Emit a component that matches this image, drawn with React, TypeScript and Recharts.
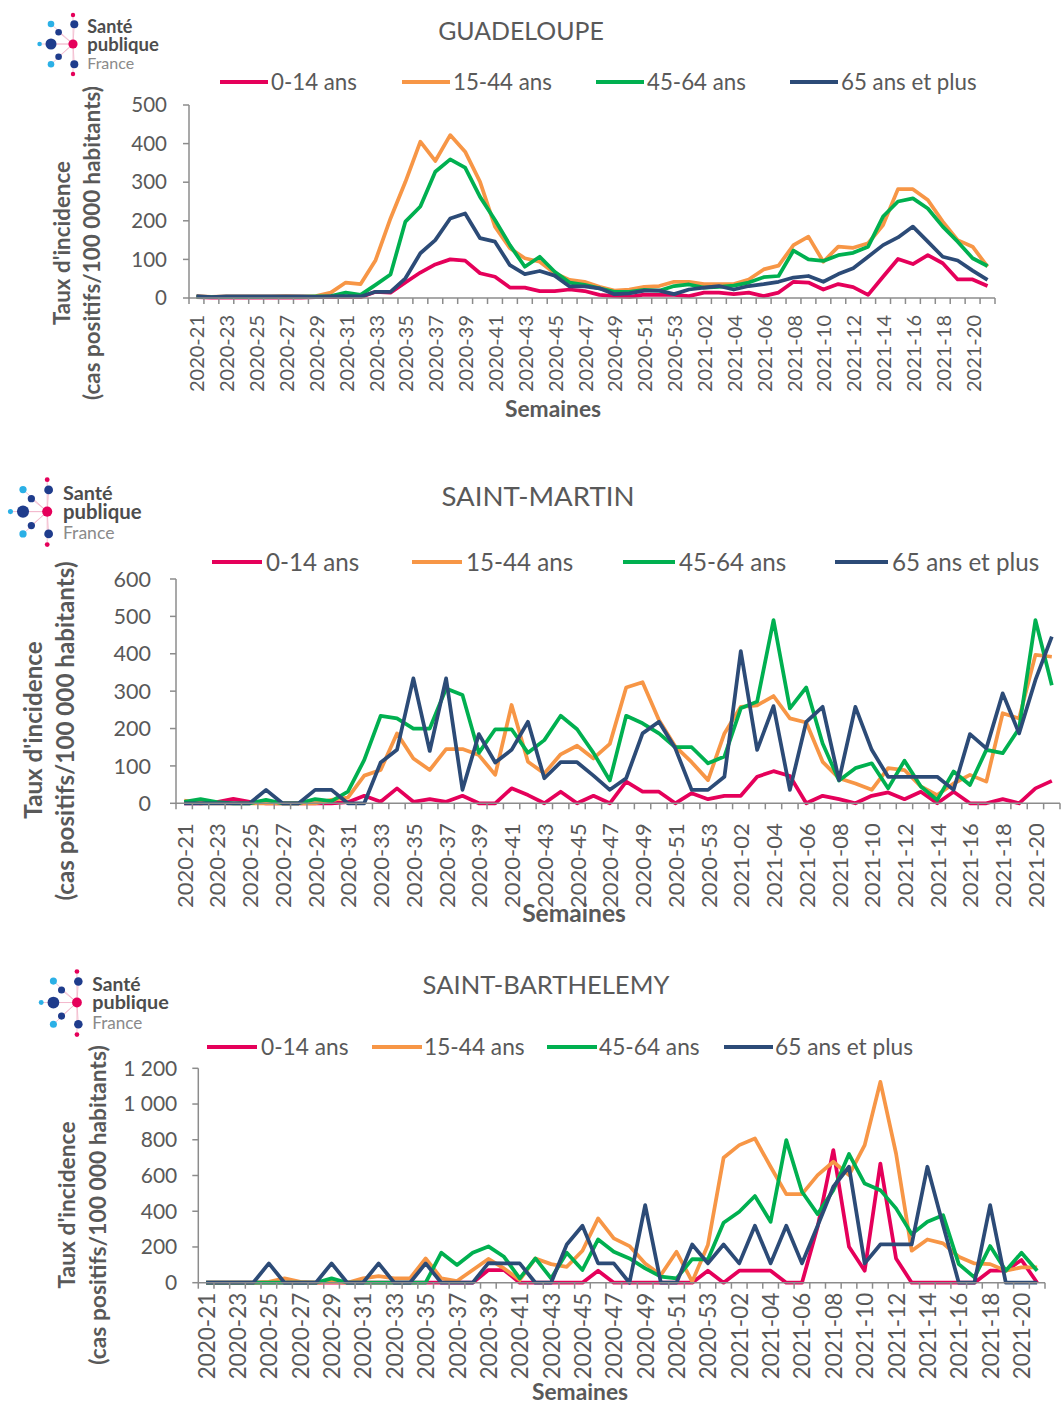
import React from 'react';
import { LineChart, Line, XAxis, YAxis } from 'recharts';

// ---------- DATA ----------
const weeks = [
  '2020-21', '2020-22', '2020-23', '2020-24', '2020-25', '2020-26', '2020-27', '2020-28', '2020-29', '2020-30',
  '2020-31', '2020-32', '2020-33', '2020-34', '2020-35', '2020-36', '2020-37', '2020-38', '2020-39', '2020-40',
  '2020-41', '2020-42', '2020-43', '2020-44', '2020-45', '2020-46', '2020-47', '2020-48', '2020-49', '2020-50',
  '2020-51', '2020-52', '2020-53', '2021-01', '2021-02', '2021-03', '2021-04', '2021-05', '2021-06', '2021-07',
  '2021-08', '2021-09', '2021-10', '2021-11', '2021-12', '2021-13', '2021-14', '2021-15', '2021-16', '2021-17',
  '2021-18', '2021-19', '2021-20', '2021-21',
];

const seriesNames = ['0-14 ans', '15-44 ans', '45-64 ans', '65 ans et plus'];

const chartTitles = ['GUADELOUPE', 'SAINT-MARTIN', 'SAINT-BARTHELEMY'];
const yTitle1 = "Taux d'incidence";
const yTitle2 = '(cas positifs/100 000 habitants)';
const xTitle = 'Semaines';
const logoWords = ['Santé', 'publique', 'France'];

const gpTicks = [0, 100, 200, 300, 400, 500];
const smTicks = [0, 100, 200, 300, 400, 500, 600];
const sbTicks = [0, 200, 400, 600, 800, 1000, 1200];

// Guadeloupe
const gp014 = [2, 1, 1, 1, 1, 1, 1, 1, 2, 2, 3, 2, 16, 14, 40, 66, 87, 100, 97, 64, 55, 27, 27, 18, 18, 22, 18, 8, 5, 3, 9, 8, 8, 5, 14, 14, 10, 14, 5, 14, 42, 40, 22, 36, 28, 8, 55, 101, 88, 111, 90, 48, 48, 31];
const gp1544 = [5, 3, 4, 4, 4, 4, 5, 4, 5, 14, 40, 36, 98, 206, 301, 405, 355, 422, 379, 301, 185, 129, 103, 94, 64, 47, 42, 29, 19, 22, 29, 31, 42, 42, 36, 36, 36, 48, 74, 84, 137, 159, 94, 133, 130, 142, 189, 282, 282, 254, 198, 150, 133, 81];
const gp4564 = [3, 2, 2, 2, 2, 3, 3, 3, 4, 5, 14, 8, 34, 61, 198, 237, 327, 359, 338, 262, 202, 137, 81, 107, 68, 40, 34, 25, 16, 16, 21, 19, 31, 35, 27, 29, 32, 40, 54, 57, 123, 100, 96, 111, 117, 133, 211, 250, 258, 232, 185, 146, 103, 83];
const gp65 = [5, 2, 4, 4, 4, 4, 4, 4, 3, 4, 5, 4, 16, 16, 51, 116, 150, 206, 219, 155, 146, 85, 62, 70, 58, 30, 30, 25, 10, 12, 19, 19, 10, 22, 27, 31, 22, 31, 36, 42, 53, 57, 42, 62, 77, 107, 137, 157, 185, 146, 107, 97, 71, 47];

// Saint-Martin
const sm014 = [0, 0, 3, 12, 4, 0, 0, 0, 0, 0, 3, 20, 4, 40, 4, 11, 4, 20, 0, 0, 40, 22, 0, 31, 0, 20, 0, 58, 31, 31, 0, 27, 11, 20, 20, 71, 86, 73, 0, 20, 11, 0, 20, 29, 11, 31, 0, 31, 0, 0, 11, 0, 40, 60];
const sm1544 = [7, 0, 0, 0, 0, 0, 0, 0, 0, 9, 15, 74, 89, 187, 120, 89, 145, 145, 129, 76, 263, 111, 80, 131, 154, 120, 159, 310, 324, 223, 152, 110, 62, 187, 258, 262, 287, 227, 216, 111, 67, 53, 36, 94, 89, 45, 22, 53, 76, 58, 241, 227, 397, 392];
const sm4564 = [4, 11, 3, 0, 0, 9, 0, 0, 11, 6, 31, 116, 234, 227, 200, 200, 307, 290, 135, 198, 198, 135, 169, 234, 198, 135, 61, 234, 214, 187, 150, 150, 107, 125, 254, 272, 490, 254, 310, 160, 61, 94, 107, 40, 114, 45, 9, 85, 49, 143, 134, 200, 490, 316];
const sm65 = [0, 0, 0, 0, 0, 36, 0, 0, 36, 36, 0, 0, 109, 143, 334, 140, 334, 36, 185, 109, 143, 218, 67, 110, 110, 74, 36, 67, 187, 218, 147, 36, 36, 71, 407, 143, 260, 36, 218, 258, 62, 258, 143, 71, 71, 71, 71, 36, 185, 147, 294, 187, 330, 446];

// Saint-Barthélemy
const sb014 = [0, 0, 0, 0, 0, 0, 0, 0, 0, 0, 0, 0, 0, 0, 0, 0, 0, 0, 71, 71, 0, 0, 0, 0, 0, 67, 0, 0, 0, 0, 0, 0, 67, 0, 67, 67, 67, 0, 0, 313, 742, 201, 67, 667, 136, 0, 0, 0, 0, 0, 67, 67, 127, 0];
const sb1544 = [0, 0, 0, 0, 5, 24, 5, 0, 5, 0, 24, 37, 24, 24, 136, 24, 9, 71, 133, 80, 15, 136, 104, 89, 179, 360, 248, 205, 108, 43, 173, 6, 211, 699, 770, 807, 649, 496, 496, 602, 677, 602, 770, 1124, 723, 179, 242, 220, 145, 108, 104, 67, 86, 86];
const sb4564 = [0, 0, 0, 0, 0, 0, 0, 0, 24, 0, 0, 0, 0, 0, 0, 168, 99, 168, 203, 145, 24, 136, 24, 168, 71, 242, 173, 136, 80, 34, 24, 132, 130, 336, 397, 485, 341, 798, 509, 384, 518, 720, 555, 518, 416, 272, 341, 378, 104, 30, 205, 67, 168, 67];
const sb65 = [0, 0, 0, 0, 108, 0, 0, 0, 108, 0, 0, 108, 0, 0, 108, 0, 0, 0, 110, 108, 108, 0, 0, 214, 319, 108, 108, 0, 434, 0, 0, 214, 108, 214, 108, 319, 108, 319, 108, 319, 537, 649, 108, 214, 214, 214, 649, 322, 0, 0, 434, 0, 0, 0];

// ---------- STYLE ----------
const COLORS = ['#E5005A', '#F79646', '#00B050', '#2C4B77'];
const TXT = '#595959';
const AXIS = '#8C8C8C';
const FONT = 'Lato, "Open Sans", sans-serif';

const buildData = (a: number[], b: number[], c: number[], d: number[]) =>
  weeks.map((w, i) => ({ week: w, s0: a[i], s1: b[i], s2: c[i], s3: d[i] }));

const datasets = [
  buildData(gp014, gp1544, gp4564, gp65),
  buildData(sm014, sm1544, sm4564, sm65),
  buildData(sb014, sb1544, sb4564, sb65),
];
const tickSets = [gpTicks, smTicks, sbTicks];

type Cfg = {
  top: number; height: number;
  plotLeft: number; plotRight: number; plotTop: number; plotBottom: number;
  titleX: number; titleY: number; titleSize: number;
  legendY: number; legend: number[][]; legendSize: number;
  yTickSize: number; yTickMargin: number;
  xTickSize: number; xTickGap: number;
  yT1: number[]; yT2: number[]; yTitleSize: number;
  xTitleX: number; xTitleY: number; xTitleSize: number;
  logo: number[];
};

const cfgs: Cfg[] = [
  {
    top: 0, height: 430, plotLeft: 189, plotRight: 995, plotTop: 105, plotBottom: 298,
    titleX: 521, titleY: 30, titleSize: 24.9,
    legendY: 82, legend: [[220, 268, 271], [402, 450, 453], [596, 644, 647], [790, 838, 841]], legendSize: 22.3,
    yTickSize: 20.5, yTickMargin: 16, xTickSize: 20, xTickGap: 17,
    yT1: [62, 243], yT2: [92, 243], yTitleSize: 22.4,
    xTitleX: 553, xTitleY: 408, xTitleSize: 22.8,
    logo: [50.7, 44, 1],
  },
  {
    top: 440, height: 480, plotLeft: 176, plotRight: 1060, plotTop: 579, plotBottom: 803.3,
    titleX: 538, titleY: 496, titleSize: 27.6,
    legendY: 562, legend: [[212, 262, 266], [412, 462, 466], [623, 675, 679], [835, 888, 892]], legendSize: 24.2,
    yTickSize: 21.5, yTickMargin: 19, xTickSize: 22, xTickGap: 20,
    yT1: [33, 730], yT2: [65, 731], yTitleSize: 24.2,
    xTitleX: 574, xTitleY: 913, xTitleSize: 24.6,
    logo: [23, 512, 1.1],
  },
  {
    top: 930, height: 475, plotLeft: 198.3, plotRight: 1045, plotTop: 1068.3, plotBottom: 1282.7,
    titleX: 546, titleY: 985, titleSize: 25.6,
    legendY: 1047, legend: [[207, 257, 261], [372, 422, 424], [547, 597, 599], [724, 773, 775]], legendSize: 22.7,
    yTickSize: 21, yTickMargin: 15, xTickSize: 22.5, xTickGap: 10,
    yT1: [66, 1205], yT2: [97, 1205], yTitleSize: 22.8,
    xTitleX: 580, xTitleY: 1391, xTitleSize: 22.8,
    logo: [53, 1003, 1.07],
  },
];

const fmtNum = (v: number) => String(v).replace(/\B(?=(\d{3})+(?!\d))/g, '\u00a0');

function Logo({ x, y, s }: { x: number; y: number; s: number }) {
  const dots: [number, number, number, string][] = [
    [0, 0, 5.5, '#1F3C8C'],
    [23.3, -19.7, 4, '#1F3C8C'],
    [23.3, 20.3, 4, '#1F3C8C'],
    [7.6, -11.7, 3.3, '#1F3C8C'],
    [7.6, 12.7, 3.3, '#1F3C8C'],
    [0, -20, 3.3, '#2BB0E6'],
    [0, 20.3, 3.3, '#2BB0E6'],
    [-11.4, 0, 2.3, '#2BB0E6'],
    [22, -29, 2.2, '#E5005A'],
    [22, 30, 2.2, '#E5005A'],
  ];
  const cx = 22;
  return (
    <svg style={{ position: 'absolute', left: x - 20 * s, top: y - 36 * s, overflow: 'visible' }} width={160 * s} height={72 * s}>
      <g transform={`translate(${20 * s},${36 * s}) scale(${s})`}>
        {dots.map((d, i) => (
          <line key={'l' + i} x1={cx} y1={0} x2={d[0]} y2={d[1]} stroke="#F2B8CC" strokeWidth={0.8} />
        ))}
        {dots.map((d, i) => (
          <circle key={'c' + i} cx={d[0]} cy={d[1]} r={d[2]} fill={d[3]} />
        ))}
        <circle cx={cx} cy={0} r={4.6} fill="#E5005A" />
        <text x={36.3} y={-11} fontFamily={FONT}>
          <tspan x={36.3} y={-11} fontSize={18} fontWeight={700} fill="#4D4D4D">{logoWords[0]}</tspan>
          <tspan x={36.3} y={6.5} fontSize={18.5} fontWeight={700} fill="#4D4D4D">{logoWords[1]}</tspan>
          <tspan x={36.3} y={24.5} fontSize={16} fill="#8A8A8A">{logoWords[2]}</tspan>
        </text>
      </g>
    </svg>
  );
}

function Panel({ cfg, data, ticks, title }: { cfg: Cfg; data: any[]; ticks: number[]; title: string }) {
  const W = cfg.plotRight - cfg.plotLeft;
  const n = data.length;
  const bw = W / n;
  const yAxisW = 60;
  const xAxisH = 100;
  const base = cfg.plotBottom - cfg.top;
  const margin = {
    top: cfg.plotTop - cfg.top,
    left: cfg.plotLeft - yAxisW,
    right: 1062 - cfg.plotRight,
    bottom: cfg.height - base - xAxisH,
  };

  const renderXTick = (p: any) => {
    const { x, payload, index } = p;
    return (
      <g key={'t' + index}>
        <line x1={x - bw / 2} x2={x - bw / 2} y1={base} y2={base + 6} stroke={AXIS} strokeWidth={1.5} />
        {index === n - 1 && (
          <line x1={x + bw / 2} x2={x + bw / 2} y1={base} y2={base + 6} stroke={AXIS} strokeWidth={1.5} />
        )}
        {index % 2 === 0 && (
          <text
            transform={`translate(${x},${base + cfg.xTickGap}) rotate(-90)`}
            textAnchor="end"
            dominantBaseline="central"
            fontSize={cfg.xTickSize}
            fill={TXT}
            fontFamily={FONT}
          >
            {payload.value}
          </text>
        )}
      </g>
    );
  };

  const rot: React.CSSProperties = {
    position: 'absolute', transform: 'translate(-50%,-50%) rotate(-90deg)', whiteSpace: 'nowrap',
    fontWeight: 700, color: TXT, fontSize: cfg.yTitleSize, lineHeight: 1,
  };

  return (
    <>
      <div style={{ position: 'absolute', left: 0, top: cfg.top, width: 1062, height: cfg.height }}>
        <LineChart width={1062} height={cfg.height} data={data} margin={margin}>
          <XAxis
            dataKey="week"
            interval={0}
            padding={{ left: bw / 2, right: bw / 2 }}
            height={xAxisH}
            axisLine={{ stroke: AXIS, strokeWidth: 1.5 }}
            tickLine={false}
            tick={renderXTick}
          />
          <YAxis
            width={yAxisW}
            domain={[0, ticks[ticks.length - 1]]}
            ticks={ticks}
            interval={0}
            tickFormatter={fmtNum}
            axisLine={{ stroke: AXIS, strokeWidth: 1.5 }}
            tickLine={{ stroke: AXIS, strokeWidth: 1.5 }}
            tickSize={6}
            tickMargin={cfg.yTickMargin}
            tick={{ fill: TXT, fontSize: cfg.yTickSize, fontFamily: FONT }}
          />
          {['s0', 's1', 's2', 's3'].map((k, i) => (
            <Line
              key={k}
              type="linear"
              dataKey={k}
              name={seriesNames[i]}
              stroke={COLORS[i]}
              strokeWidth={3.75}
              strokeLinejoin="round"
              dot={false}
              activeDot={false}
              isAnimationActive={false}
            />
          ))}
        </LineChart>
      </div>
      <Logo x={cfg.logo[0]} y={cfg.logo[1]} s={cfg.logo[2]} />
      <div style={{ position: 'absolute', left: cfg.titleX, top: cfg.titleY, transform: 'translate(-50%,-50%)', fontSize: cfg.titleSize, color: TXT, whiteSpace: 'nowrap', lineHeight: 1 }}>
        {title}
      </div>
      {cfg.legend.map((l, i) => (
        <React.Fragment key={'lg' + i}>
          <div style={{ position: 'absolute', left: l[0], top: cfg.legendY - 2, width: l[1] - l[0], height: 4, background: COLORS[i] }} />
          <div style={{ position: 'absolute', left: l[2], top: cfg.legendY, transform: 'translateY(-50%)', fontSize: cfg.legendSize, color: TXT, whiteSpace: 'nowrap', lineHeight: 1 }}>
            {seriesNames[i]}
          </div>
        </React.Fragment>
      ))}
      <div style={{ ...rot, left: cfg.yT1[0], top: cfg.yT1[1] }}>{yTitle1}</div>
      <div style={{ ...rot, left: cfg.yT2[0], top: cfg.yT2[1] }}>{yTitle2}</div>
      <div style={{ position: 'absolute', left: cfg.xTitleX, top: cfg.xTitleY, transform: 'translate(-50%,-50%)', fontSize: cfg.xTitleSize, fontWeight: 700, color: TXT, whiteSpace: 'nowrap', lineHeight: 0.9 }}>
        {xTitle}
      </div>
    </>
  );
}

export default function App() {
  return (
    <div style={{ position: 'absolute', left: 0, top: 0, width: 1062, height: 1405, background: '#fff', fontFamily: FONT, overflow: 'hidden' }}>
      {cfgs.map((c, i) => (
        <Panel key={i} cfg={c} data={datasets[i]} ticks={tickSets[i]} title={chartTitles[i]} />
      ))}
    </div>
  );
}
